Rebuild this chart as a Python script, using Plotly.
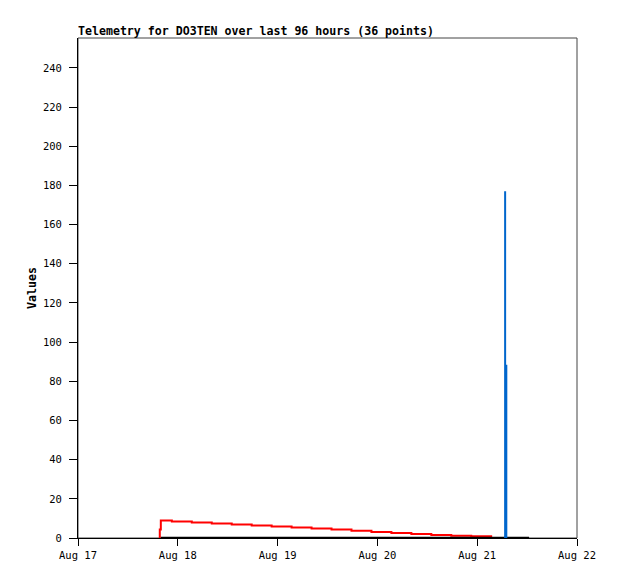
import plotly.graph_objects as go

# Red series (step line)
red_times = ["2023-08-17 19:30", "2023-08-17 19:40", "2023-08-17 19:55", "2023-08-17 22:34",
             "2023-08-18 03:22", "2023-08-18 08:10", "2023-08-18 12:58", "2023-08-18 17:46",
             "2023-08-18 22:34", "2023-08-19 03:22", "2023-08-19 08:10", "2023-08-19 12:58",
             "2023-08-19 17:46", "2023-08-19 22:34", "2023-08-20 03:22", "2023-08-20 08:10",
             "2023-08-20 12:58", "2023-08-20 17:46", "2023-08-20 22:34", "2023-08-21 03:36"]
red_values = [0, 4.4, 8.9, 8.4, 7.9, 7.4, 6.9, 6.4, 5.9, 5.4, 4.9, 4.4, 3.7, 3.1, 2.6, 2.0,
              1.5, 1.2, 0.9, 0.9]

# Black series (zero line)
black_times = ["2023-08-17 19:55", "2023-08-21 12:29"]
black_values = [0, 0]

# Blue series (spike)
blue_times = ["2023-08-21 06:43", "2023-08-21 06:43", "2023-08-21 07:00", "2023-08-21 07:00"]
blue_values = [0, 177, 88, 0]

y_ticks = list(range(0, 241, 20))
x_ticks = ["2023-08-17", "2023-08-18", "2023-08-19", "2023-08-20", "2023-08-21", "2023-08-22"]
x_tick_labels = ["Aug 17", "Aug 18", "Aug 19", "Aug 20", "Aug 21", "Aug 22"]

mono = "DejaVu Sans Mono"

fig = go.Figure()
fig.add_trace(go.Scatter(x=red_times, y=red_values, mode="lines", line_shape="hv",
                         line=dict(color="#ff0000", width=2), showlegend=False))
fig.add_trace(go.Scatter(x=black_times, y=black_values, mode="lines",
                         line=dict(color="#000000", width=2.5), showlegend=False))
fig.add_trace(go.Scatter(x=blue_times, y=blue_values, mode="lines", line_shape="vh",
                         line=dict(color="#0066cc", width=2), showlegend=False))

fig.update_layout(
    width=618, height=579,
    margin=dict(l=78, r=41, t=38, b=41),
    paper_bgcolor="white", plot_bgcolor="white",
    font=dict(family=mono, size=10, color="black"),
    title=dict(text="<b>Telemetry for DO3TEN over last 96 hours (36 points)</b>",
               x=78 / 618, xanchor="left", y=1 - 31 / 579, yanchor="middle",
               font=dict(family=mono, size=11.6, color="black")),
    shapes=[dict(type="rect", xref="paper", yref="paper", x0=0, x1=1, y0=0, y1=1,
                 line=dict(color="#444444", width=1), layer="below")],
)
fig.update_xaxes(
    type="date", range=["2023-08-17", "2023-08-22"],
    tickvals=x_ticks, ticktext=x_tick_labels,
    showgrid=False, zeroline=False,
    showline=True, linecolor="black", linewidth=1,
    ticks="outside", ticklen=7, tickcolor="black",
    tickfont=dict(family=mono, size=10.5),
)
fig.update_yaxes(
    range=[0, 255.3], tickvals=y_ticks,
    showgrid=False, zeroline=False,
    showline=True, linecolor="black", linewidth=1,
    ticks="outside", ticklen=8, tickcolor="black",
    ticklabelstandoff=5,
    tickfont=dict(family=mono, size=10.5),
    title=dict(text="<b>Values</b>", font=dict(family=mono, size=11.6), standoff=3),
)

fig.write_html("out.html", config={"displayModeBar": False},
               post_script="document.body.style.margin='0';")
